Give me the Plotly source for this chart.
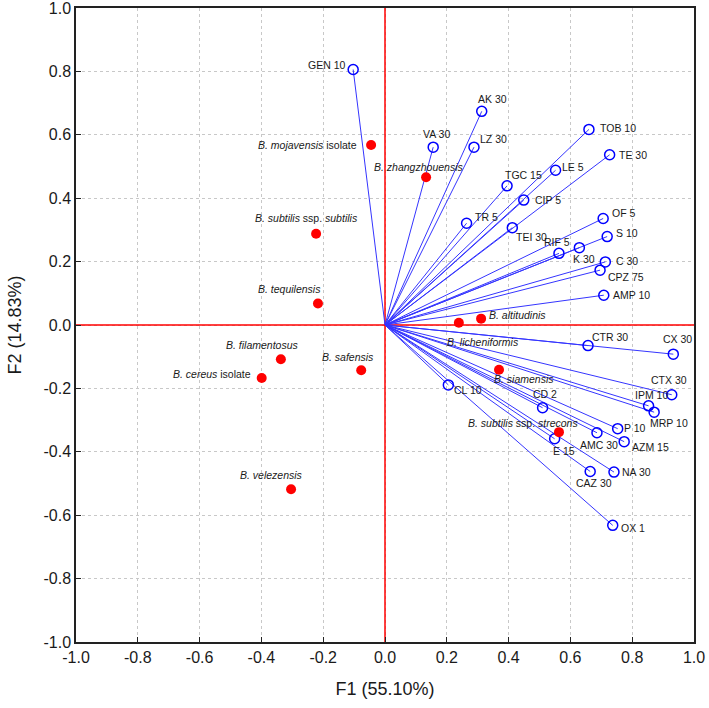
import plotly.graph_objects as go

# Antibiotic loadings (F1, F2)
ab_names = ["GEN 10", "AK 30", "VA 30", "LZ 30", "TGC 15", "CIP 5", "TR 5", "TEI 30",
            "LE 5", "TOB 10", "TE 30", "OF 5", "S 10", "RIF 5", "K 30", "C 30",
            "CPZ 75", "AMP 10", "CTR 30", "CX 30", "CL 10", "CTX 30", "IPM 10",
            "MRP 10", "CD 2", "P 10", "AMC 30", "AZM 15", "E 15", "NA 30",
            "CAZ 30", "OX 1"]
ab_f1 = [-0.103, 0.313, 0.156, 0.288, 0.395, 0.449, 0.264, 0.412,
         0.552, 0.660, 0.727, 0.706, 0.719, 0.563, 0.629, 0.713,
         0.696, 0.708, 0.657, 0.933, 0.205, 0.928, 0.853,
         0.871, 0.510, 0.753, 0.686, 0.774, 0.549, 0.741,
         0.664, 0.737]
ab_f2 = [0.806, 0.674, 0.561, 0.561, 0.439, 0.394, 0.321, 0.307,
         0.488, 0.617, 0.537, 0.336, 0.279, 0.226, 0.244, 0.199,
         0.173, 0.094, -0.065, -0.092, -0.189, -0.220, -0.255,
         -0.275, -0.261, -0.327, -0.340, -0.368, -0.359, -0.464,
         -0.462, -0.632]

# Strain scores (F1, F2)
strain_names = ["<i>B. mojavensis</i> isolate", "<i>B. zhangzhouensis</i>",
                "<i>B. subtilis</i> ssp. <i>subtilis</i>", "<i>B. tequilensis</i>",
                "<i>B. filamentosus</i>", "<i>B. safensis</i>", "<i>B. cereus</i> isolate",
                "<i>B. velezensis</i>", "<i>B. altitudinis</i>", "<i>B. licheniformis</i>",
                "<i>B. siamensis</i>", "<i>B. subtilis</i> ssp. <i>strecons</i>"]
strain_f1 = [-0.045, 0.133, -0.223, -0.217, -0.337, -0.077, -0.399, -0.304,
             0.311, 0.239, 0.369, 0.563]
strain_f2 = [0.568, 0.466, 0.288, 0.068, -0.108, -0.143, -0.167, -0.518,
             0.020, 0.007, -0.141, -0.338]

tick_vals = [-1.0, -0.8, -0.6, -0.4, -0.2, 0.0, 0.2, 0.4, 0.6, 0.8, 1.0]
tick_text = ["-1.0", "-0.8", "-0.6", "-0.4", "-0.2", "0.0", "0.2", "0.4", "0.6", "0.8", "1.0"]

# Label offsets in pixels (style only): (dx, dy_down) of label centre from the marker
ab_off = {"GEN 10": (-26, -5), "AK 30": (11, -12), "VA 30": (3, -13), "LZ 30": (20, -8),
          "TGC 15": (16, -11), "CIP 5": (24, 0), "TR 5": (20, -6), "TEI 30": (19, 9),
          "LE 5": (17, -3), "TOB 10": (29, -1), "TE 30": (23, 0), "OF 5": (20, -5),
          "S 10": (20, -4), "RIF 5": (-2, -11), "K 30": (5, 11), "C 30": (22, -1),
          "CPZ 75": (26, 7), "AMP 10": (28, 0), "CTR 30": (22, -9), "CX 30": (4, -15),
          "CL 10": (20, 5), "CTX 30": (-3, -15), "IPM 10": (3, -11), "MRP 10": (15, 11),
          "CD 2": (2, -14), "P 10": (17, -1), "AMC 30": (2, 12), "AZM 15": (26, 5),
          "E 15": (9, 12), "NA 30": (23, 0), "CAZ 30": (4, 12), "OX 1": (20, 3)}
strain_off = [(-64, 0), (-8, -10), (-10, -16), (-28, -14), (-18, -14), (-13, -13),
              (-50, -4), (-20, -14), (36, -4), (24, 19), (25, 9), (-36, -9)]

FONT = "Arial, Liberation Sans, sans-serif"
TXT = "#1a1a1a"
LBL = 10.5

fig = go.Figure()

# Red reference axes through the origin
fig.add_trace(go.Scatter(x=[-1, 1], y=[0, 0], mode="lines",
                         line=dict(color="#FF0000", width=1.5), hoverinfo="skip"))
fig.add_trace(go.Scatter(x=[0, 0], y=[-1, 1], mode="lines",
                         line=dict(color="#FF0000", width=1.5), hoverinfo="skip"))

# Vectors from origin
lx, ly = [], []
for a, b in zip(ab_f1, ab_f2):
    lx += [0, a, None]
    ly += [0, b, None]
fig.add_trace(go.Scatter(x=lx, y=ly, mode="lines",
                         line=dict(color="#3535FF", width=1), hoverinfo="skip"))

fig.add_trace(go.Scatter(
    x=ab_f1, y=ab_f2, mode="markers",
    marker=dict(symbol="circle-open", size=10, color="#0000FF", line=dict(width=1.5, color="#0000FF")),
))

fig.add_trace(go.Scatter(
    x=strain_f1, y=strain_f2, mode="markers",
    marker=dict(symbol="circle", size=10, color="#FF0000"),
))

for n, a, b in zip(ab_names, ab_f1, ab_f2):
    dx, dy = ab_off[n]
    fig.add_annotation(x=a, y=b, text=n, showarrow=False, xanchor="center", yanchor="middle",
                       xshift=dx, yshift=-dy, font=dict(family=FONT, size=LBL, color=TXT))

for n, a, b, (dx, dy) in zip(strain_names, strain_f1, strain_f2, strain_off):
    fig.add_annotation(x=a, y=b, text=n, showarrow=False, xanchor="center", yanchor="middle",
                       xshift=dx, yshift=-dy, font=dict(family=FONT, size=LBL, color=TXT))

axis_common = dict(
    range=[-1, 1], tickvals=tick_vals, ticktext=tick_text,
    showgrid=True, gridcolor="#C8C8C8", griddash="dot", gridwidth=1,
    zeroline=False, showline=True, linecolor="#222222", linewidth=1.5, mirror=True,
    ticks="inside", ticklen=5, tickcolor="#222222", automargin=False,
    ticklabeloverflow="allow",
    tickfont=dict(family=FONT, size=16, color=TXT),
)

fig.update_layout(
    width=709, height=708,
    margin=dict(l=76, r=15, t=8, b=66),
    plot_bgcolor="white", paper_bgcolor="white",
    showlegend=False,
    xaxis=dict(title=dict(text="F1 (55.10%)", font=dict(family=FONT, size=18, color=TXT), standoff=17),
               **axis_common),
    yaxis=dict(title=dict(text="F2 (14.83%)", font=dict(family=FONT, size=18, color=TXT), standoff=17),
               **axis_common),
)

fig.write_html("out.html", config={"displayModeBar": False},
               post_script="document.body.style.margin='0';")
